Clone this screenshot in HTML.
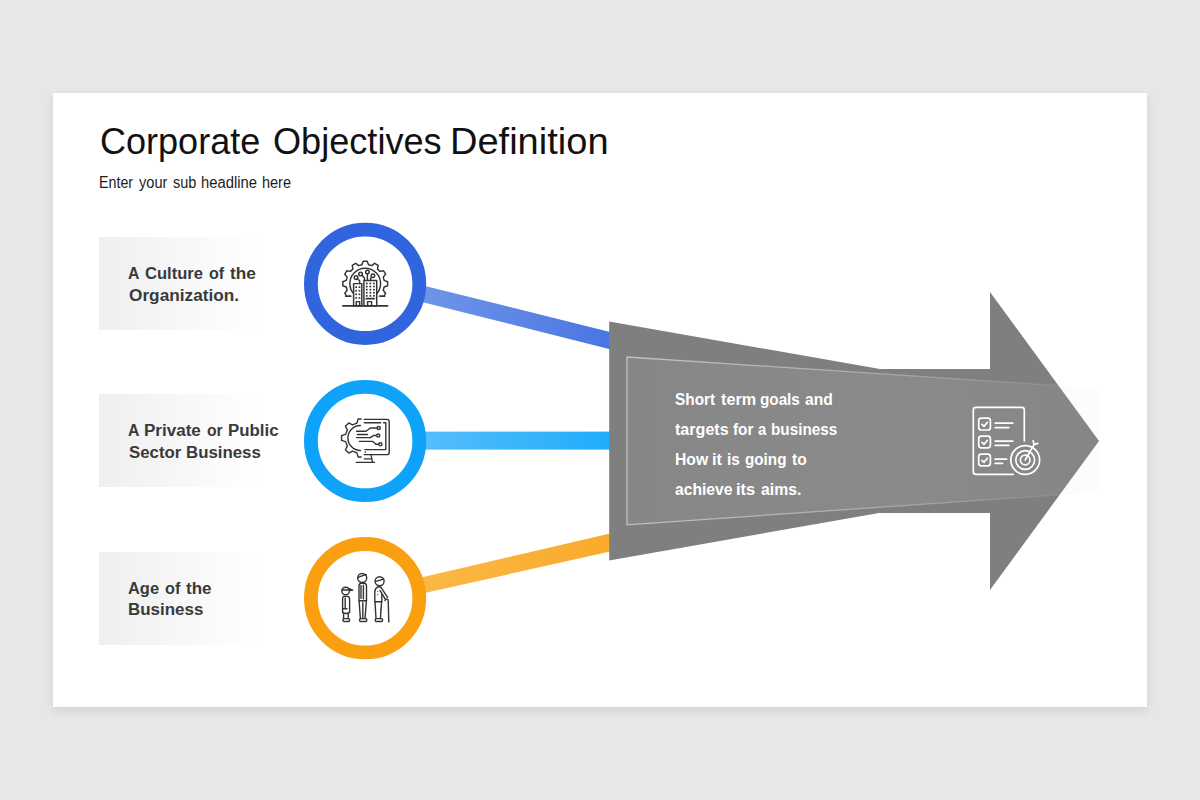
<!DOCTYPE html>
<html><head><meta charset="utf-8">
<style>
html,body{margin:0;padding:0;}
body{width:1200px;height:800px;background:#e8e6e7;position:relative;overflow:hidden;font-family:"Liberation Sans",sans-serif;}
#slide{position:absolute;left:53px;top:93px;width:1094px;height:614px;background:#fff;box-shadow:0 4px 10px rgba(0,0,0,0.09);}
.t{position:absolute;white-space:nowrap;}
#title{left:99.5px;top:121.3px;font-size:36.5px;line-height:42px;color:#111;letter-spacing:0.18px;}
#sub{left:99.5px;top:172px;font-size:15.8px;line-height:20px;color:#1a1a1a;letter-spacing:-0.33px;}
.lbl{position:absolute;left:99px;width:160px;height:92.5px;background:linear-gradient(90deg,#efefef 0%,#f4f4f4 30%,#ffffff 100%);}
.lt{position:absolute;left:127.7px;font-weight:bold;font-size:17.25px;line-height:21.6px;color:#3a3a3a;white-space:nowrap;}
.at{position:absolute;left:674.7px;font-weight:bold;font-size:15.9px;line-height:20px;color:#fff;white-space:nowrap;}
svg{position:absolute;left:0;top:0;}
.w{position:absolute;white-space:nowrap;line-height:1;transform-origin:0 50%;}
</style></head><body>
<div id="slide"></div>
<div class="lbl" style="top:237.3px"></div>
<div class="lbl" style="top:394.3px"></div>
<div class="lbl" style="top:552px"></div>
<svg width="1200" height="800" viewBox="0 0 1200 800">
<defs>
<linearGradient id="g1" gradientUnits="userSpaceOnUse" x1="426" y1="0" x2="610" y2="0"><stop offset="0" stop-color="#6f94e9"/><stop offset="1" stop-color="#4976e2"/></linearGradient>
<linearGradient id="g2" gradientUnits="userSpaceOnUse" x1="426" y1="0" x2="610" y2="0"><stop offset="0" stop-color="#55bdfc"/><stop offset="1" stop-color="#20adfb"/></linearGradient>
<linearGradient id="g3" gradientUnits="userSpaceOnUse" x1="426" y1="0" x2="610" y2="0"><stop offset="0" stop-color="#fbb846"/><stop offset="1" stop-color="#f9aa2a"/></linearGradient>
<linearGradient id="ov" gradientUnits="userSpaceOnUse" x1="627" y1="0" x2="1100" y2="0"><stop offset="0" stop-color="#fff" stop-opacity="0.06"/><stop offset="0.6" stop-color="#fff" stop-opacity="0.09"/><stop offset="1" stop-color="#fff" stop-opacity="0.05"/></linearGradient>
<linearGradient id="os" gradientUnits="userSpaceOnUse" x1="627" y1="0" x2="1100" y2="0"><stop offset="0" stop-color="#fff" stop-opacity="0.5"/><stop offset="0.45" stop-color="#fff" stop-opacity="0.35"/><stop offset="0.9" stop-color="#fff" stop-opacity="0.08"/><stop offset="1" stop-color="#fff" stop-opacity="0"/></linearGradient>
<clipPath id="ac"><polygon points="609.2,321.5 880,369 990,369 990,292 1099,441 990,590 990,513 879,513 609.2,560.5"/></clipPath>
</defs>
<!-- connectors -->
<polygon points="418,284.2 610,331.9 610,349.3 418,300.9" fill="url(#g1)"/>
<rect x="418" y="431.6" width="192" height="18" fill="url(#g2)"/>
<polygon points="418,578.2 610,533.4 610,551.4 418,594.6" fill="url(#g3)"/>
<!-- circles -->
<circle cx="365.1" cy="283.8" r="54.2" fill="#fff" stroke="#3165dd" stroke-width="13.8"/>
<circle cx="365.1" cy="441" r="54.2" fill="#fff" stroke="#0ea3f8" stroke-width="13.8"/>
<circle cx="365.1" cy="598.2" r="54.2" fill="#fff" stroke="#fa9f10" stroke-width="13.8"/>
<!-- arrow -->
<polygon points="1050,385 1100,388.3 1100,492 1050,495.4" fill="#fcfcfc"/>
<polygon points="609.2,321.5 880,369 990,369 990,292 1099,441 990,590 990,513 879,513 609.2,560.5" fill="#7f7f7f"/>
<g clip-path="url(#ac)"><polygon points="627,357 1100,388.3 1100,492 627,524.8" fill="url(#ov)" stroke="url(#os)" stroke-width="1.3"/></g>
<!--ICONS-->
<g fill="none" stroke="#333" stroke-width="1.45" stroke-linejoin="round" stroke-linecap="round">
<clipPath id="c1"><rect x="330" y="250" width="70" height="46.6"/></clipPath>
<g clip-path="url(#c1)"><path d="M361.90,264.79 L363.20,261.29 L367.20,261.29 L368.50,264.79 L371.80,265.67 L374.67,263.29 L378.14,265.29 L377.52,268.97 L379.93,271.38 L383.61,270.76 L385.61,274.23 L383.23,277.10 L384.11,280.40 L387.61,281.70 L387.61,285.70 L384.11,287.00 L383.23,290.30 L385.61,293.17 L383.61,296.64 L379.93,296.02 L377.52,298.43 L378.14,302.11 L374.67,304.11 L371.80,301.73 L368.50,302.61 L367.20,306.11 L363.20,306.11 L361.90,302.61 L358.60,301.73 L355.73,304.11 L352.26,302.11 L352.88,298.43 L350.47,296.02 L346.79,296.64 L344.79,293.17 L347.17,290.30 L346.29,287.00 L342.79,285.70 L342.79,281.70 L346.29,280.40 L347.17,277.10 L344.79,274.23 L346.79,270.76 L350.47,271.38 L352.88,268.97 L352.26,265.29 L355.73,263.29 L358.60,265.67Z"/><circle cx="365.2" cy="283.6" r="15.4"/></g>
<path d="M345.6,296.3H350.5 M384.8,296.3H380.2"/>
<rect x="353.6" y="283.6" width="8.2" height="22.1" fill="#fff"/>
<rect x="363.9" y="280.4" width="12.8" height="25.3" fill="#fff"/>
<path d="M356.3,305.7V301.6H359.6V305.7 M367.6,305.7V301.6H371.6V305.7"/>
<path d="M342.9,305.8H387.6" stroke-width="1.8"/>
<path d="M366.2,298.7H374.2" stroke-width="1.7"/>
<circle cx="356" cy="277.6" r="1.8" fill="#fff"/><path d="M357.4,278.8L359.6,280.8V283.4"/>
<circle cx="360.6" cy="274" r="1.8" fill="#fff"/><path d="M361.9,275.3L364.4,277.8V280.2"/>
<circle cx="367.4" cy="272" r="1.8" fill="#fff"/><path d="M367.4,273.9V280.2"/>
<circle cx="372.9" cy="275.8" r="1.8" fill="#fff"/><path d="M371.7,277.2L370.6,278.4V280.2"/>
</g>
<g fill="#333"><rect x="355.3" y="286.3" width="1.7" height="1.7"/><rect x="358.6" y="286.3" width="1.7" height="1.7"/><rect x="355.3" y="289.9" width="1.7" height="1.7"/><rect x="358.6" y="289.9" width="1.7" height="1.7"/><rect x="355.3" y="293.5" width="1.7" height="1.7"/><rect x="358.6" y="293.5" width="1.7" height="1.7"/><rect x="355.3" y="297.1" width="1.7" height="1.7"/><rect x="358.6" y="297.1" width="1.7" height="1.7"/><rect x="365.9" y="282.6" width="1.7" height="1.7"/><rect x="369.5" y="282.6" width="1.7" height="1.7"/><rect x="373.1" y="282.6" width="1.7" height="1.7"/><rect x="365.9" y="285.7" width="1.7" height="1.7"/><rect x="369.5" y="285.7" width="1.7" height="1.7"/><rect x="373.1" y="285.7" width="1.7" height="1.7"/><rect x="365.9" y="288.8" width="1.7" height="1.7"/><rect x="369.5" y="288.8" width="1.7" height="1.7"/><rect x="373.1" y="288.8" width="1.7" height="1.7"/><rect x="365.9" y="291.9" width="1.7" height="1.7"/><rect x="369.5" y="291.9" width="1.7" height="1.7"/><rect x="373.1" y="291.9" width="1.7" height="1.7"/><rect x="365.9" y="295.0" width="1.7" height="1.7"/><rect x="369.5" y="295.0" width="1.7" height="1.7"/><rect x="373.1" y="295.0" width="1.7" height="1.7"/></g>
<g fill="none" stroke="#333" stroke-width="1.4" stroke-linejoin="round" stroke-linecap="round">
<clipPath id="c2"><rect x="330" y="410" width="31.6" height="60"/></clipPath>
<g clip-path="url(#c2)"><path d="M345.53,441.60 L341.55,440.39 L341.55,435.61 L345.53,434.40 L347.37,429.95 L345.41,426.29 L348.79,422.91 L352.45,424.87 L356.90,423.03 L358.11,419.05 L362.89,419.05 L364.10,423.03 L368.55,424.87 L372.21,422.91 L375.59,426.29 L373.63,429.95 L375.47,434.40 L379.45,435.61 L379.45,440.39 L375.47,441.60 L373.63,446.05 L375.59,449.71 L372.21,453.09 L368.55,451.13 L364.10,452.97 L362.89,456.95 L358.11,456.95 L356.90,452.97 L352.45,451.13 L348.79,453.09 L345.41,449.71 L347.37,446.05Z"/></g>
<path d="M360.4,425.5A12.5,12.5 0 0 0 360.4,450.5"/>
<path d="M364.2,419.4H387A2.2,2.2 0 0 1 389.2,421.6V452.4A2.2,2.2 0 0 1 387,454.6H364.2"/>
<path d="M364.4,422.7H380.6 M383.6,422.7H385.8V449.6H365"/>
<path d="M364.4,458.9H371.6 M371,454.8L372.4,461.6 M356.2,462.3H374.6" stroke-width="1.3"/>
<path d="M356.6,431.3H366L370.4,428H377.1"/><circle cx="378.7" cy="428" r="1.55"/>
<path d="M357.4,434.5H367.4"/>
<path d="M356.6,437.6H370.4L373.4,435.5H376.6"/><circle cx="378.2" cy="435.5" r="1.55"/>
<path d="M359.4,441.4H372.8L376,444.3H378.8"/><circle cx="380.4" cy="444.3" r="1.55"/>
</g>
<circle cx="365.3" cy="452.1" r="0.8" fill="#333"/>
<g fill="none" stroke="#333" stroke-width="1.4" stroke-linejoin="round" stroke-linecap="round">
<circle cx="345.6" cy="591" r="3.8"/><path d="M341.9,590H349.4 M348.6,588.4L352.6,590.2H349.2"/>
<path d="M343.6,596.4H347.4Q349.6,596.6 349.6,599.6V612.4Q346,614.6 342.6,612.4V599.6Q342.6,596.6 343.6,596.4Z"/>
<path d="M345.2,598V608.6 M342.6,608.8H347"/>
<path d="M343.6,613.2V618.6 M348.2,613.2V618.6"/><rect x="343" y="618.6" width="6.6" height="2.9" rx="1.2"/>
<circle cx="362.2" cy="578" r="4.5"/><path d="M358,577.4Q362,575.8 366.4,574.6"/>
<path d="M360.8,583.2H364.6Q366.5,583.6 366.5,586.2V600.8H359V586.2Q359,583.6 360.8,583.2Z"/>
<path d="M361,585.6V598.4 M363.4,585.2V598.8"/>
<path d="M359.1,600.8L360.4,618.6 M366.4,600.8L365,618.6 M362.8,602.4V617.6"/><rect x="359.6" y="618.6" width="7.2" height="2.9" rx="1.2"/>
<circle cx="379.6" cy="581.2" r="4.5"/><path d="M375.6,581.4Q379.6,580.6 383.6,578.8"/>
<path d="M378,586.8Q374.8,588.4 374.8,592V601.8H381.8V594"/>
<path d="M378.6,586.8L380.8,587.2L387.6,597.4 M380,590.4L385.4,599.4"/>
<path d="M375,601.8L376,618.6 M381.6,601.8L380.4,618.6"/><rect x="375.2" y="618.6" width="7.4" height="2.9" rx="1.2"/>
<path d="M385,600.6Q386.6,597.6 388.2,600.2L388.8,622"/>
</g>
<g fill="#333"><circle cx="377.8" cy="591.6" r="0.6"/><circle cx="377.8" cy="594.6" r="0.6"/><circle cx="380.4" cy="609.6" r="0.6"/><circle cx="380.4" cy="612" r="0.6"/></g>
<g fill="none" stroke="#fff" stroke-width="1.7" stroke-linejoin="round" stroke-linecap="round">
<path d="M1024.3,441V410A2.6,2.6 0 0 0 1021.7,407.4H975.9A2.6,2.6 0 0 0 973.3,410V471.7A2.6,2.6 0 0 0 975.9,474.3H1013.2"/>
<rect x="978.7" y="418.2" width="11.7" height="11.8" rx="2.6"/>
<path d="M982,424.4L984,426.4L987.4,422.4"/>
<rect x="978.7" y="436.1" width="11.7" height="11.8" rx="2.6"/>
<path d="M982,442.3L984,444.3L987.4,440.3"/>
<rect x="978.7" y="454.1" width="11.7" height="11.8" rx="2.6"/>
<path d="M982,460.3L984,462.3L987.4,458.3"/>
<path d="M995.2,423.2H1012.8 M995.2,427.6H1008.8 M995.2,441.1H1012.8 M995.2,445.4H1008.8 M995.2,459.2H1006.6 M995.2,463.3H1002.6"/>
<circle cx="1025.2" cy="460" r="14.4"/><circle cx="1025.2" cy="460" r="9.4"/><circle cx="1025.2" cy="460" r="4.8"/>
<path d="M1025.2,460L1034,444.6 M1033.2,440.6L1034,444.6L1037.8,443.4"/>
</g>
<!--/ICONS-->
</svg>
<!--TEXT-->
<span class="w" style="left:100.01px;top:123.60px;font-size:36.5px;font-weight:normal;color:#111;transform:scaleX(0.9875)">Corporate</span>
<span class="w" style="left:272.61px;top:123.60px;font-size:36.5px;font-weight:normal;color:#111;transform:scaleX(0.9896)">Objectives</span>
<span class="w" style="left:450.47px;top:123.60px;font-size:36.5px;font-weight:normal;color:#111;transform:scaleX(1.0418)">Definition</span>
<span class="w" style="left:99.11px;top:174.56px;font-size:16px;font-weight:normal;color:#1c1c1c;transform:scaleX(0.8902)">Enter</span>
<span class="w" style="left:139.30px;top:174.56px;font-size:16px;font-weight:normal;color:#1c1c1c;transform:scaleX(0.9120)">your</span>
<span class="w" style="left:173.30px;top:174.56px;font-size:16px;font-weight:normal;color:#1c1c1c;transform:scaleX(0.9074)">sub</span>
<span class="w" style="left:200.87px;top:174.56px;font-size:16px;font-weight:normal;color:#1c1c1c;transform:scaleX(0.9262)">headline</span>
<span class="w" style="left:262.39px;top:174.56px;font-size:16px;font-weight:normal;color:#1c1c1c;transform:scaleX(0.9060)">here</span>
<span class="w" style="left:127.95px;top:265.14px;font-size:17.2px;font-weight:bold;color:#3a3a3a;transform:scaleX(0.9167)">A</span>
<span class="w" style="left:145.00px;top:265.14px;font-size:17.2px;font-weight:bold;color:#3a3a3a;transform:scaleX(0.9648)">Culture</span>
<span class="w" style="left:208.70px;top:265.14px;font-size:17.2px;font-weight:bold;color:#3a3a3a;transform:scaleX(0.9395)">of</span>
<span class="w" style="left:229.70px;top:265.14px;font-size:17.2px;font-weight:bold;color:#3a3a3a;transform:scaleX(1.0031)">the</span>
<span class="w" style="left:128.70px;top:286.74px;font-size:17.2px;font-weight:bold;color:#3a3a3a;transform:scaleX(1.0024)">Organization.</span>
<span class="w" style="left:127.95px;top:422.14px;font-size:17.2px;font-weight:bold;color:#3a3a3a;transform:scaleX(0.9167)">A</span>
<span class="w" style="left:144.01px;top:422.14px;font-size:17.2px;font-weight:bold;color:#3a3a3a;transform:scaleX(0.9916)">Private</span>
<span class="w" style="left:207.00px;top:422.14px;font-size:17.2px;font-weight:bold;color:#3a3a3a;transform:scaleX(0.9143)">or</span>
<span class="w" style="left:227.72px;top:422.14px;font-size:17.2px;font-weight:bold;color:#3a3a3a;transform:scaleX(0.9802)">Public</span>
<span class="w" style="left:128.70px;top:443.74px;font-size:17.2px;font-weight:bold;color:#3a3a3a;transform:scaleX(0.9776)">Sector</span>
<span class="w" style="left:185.72px;top:443.74px;font-size:17.2px;font-weight:bold;color:#3a3a3a;transform:scaleX(0.9791)">Business</span>
<span class="w" style="left:127.95px;top:579.64px;font-size:17.2px;font-weight:bold;color:#3a3a3a;transform:scaleX(0.9558)">Age</span>
<span class="w" style="left:164.70px;top:579.64px;font-size:17.2px;font-weight:bold;color:#3a3a3a;transform:scaleX(0.9455)">of</span>
<span class="w" style="left:185.80px;top:579.64px;font-size:17.2px;font-weight:bold;color:#3a3a3a;transform:scaleX(0.9912)">the</span>
<span class="w" style="left:127.71px;top:601.24px;font-size:17.2px;font-weight:bold;color:#3a3a3a;transform:scaleX(0.9858)">Business</span>
<span class="w" style="left:674.90px;top:392.04px;font-size:15.9px;font-weight:bold;color:#fff;transform:scaleX(0.9693)">Short</span>
<span class="w" style="left:720.80px;top:392.04px;font-size:15.9px;font-weight:bold;color:#fff;transform:scaleX(1.0200)">term</span>
<span class="w" style="left:759.70px;top:392.04px;font-size:15.9px;font-weight:bold;color:#fff;transform:scaleX(0.9600)">goals</span>
<span class="w" style="left:805.00px;top:392.04px;font-size:15.9px;font-weight:bold;color:#fff;transform:scaleX(0.9802)">and</span>
<span class="w" style="left:674.90px;top:421.74px;font-size:15.9px;font-weight:bold;color:#fff;transform:scaleX(1.0122)">targets</span>
<span class="w" style="left:733.00px;top:421.74px;font-size:15.9px;font-weight:bold;color:#fff;transform:scaleX(0.9667)">for</span>
<span class="w" style="left:758.30px;top:421.74px;font-size:15.9px;font-weight:bold;color:#fff;transform:scaleX(0.9333)">a</span>
<span class="w" style="left:771.04px;top:421.74px;font-size:15.9px;font-weight:bold;color:#fff;transform:scaleX(0.9626)">business</span>
<span class="w" style="left:674.51px;top:451.74px;font-size:15.9px;font-weight:bold;color:#fff;transform:scaleX(0.9885)">How</span>
<span class="w" style="left:712.27px;top:451.74px;font-size:15.9px;font-weight:bold;color:#fff;transform:scaleX(1.0303)">it</span>
<span class="w" style="left:727.03px;top:451.74px;font-size:15.9px;font-weight:bold;color:#fff;transform:scaleX(0.9666)">is</span>
<span class="w" style="left:745.00px;top:451.74px;font-size:15.9px;font-weight:bold;color:#fff;transform:scaleX(0.9592)">going</span>
<span class="w" style="left:791.70px;top:451.74px;font-size:15.9px;font-weight:bold;color:#fff;transform:scaleX(0.9809)">to</span>
<span class="w" style="left:674.90px;top:482.34px;font-size:15.9px;font-weight:bold;color:#fff;transform:scaleX(0.9851)">achieve</span>
<span class="w" style="left:735.97px;top:482.34px;font-size:15.9px;font-weight:bold;color:#fff;transform:scaleX(1.0335)">its</span>
<span class="w" style="left:760.80px;top:482.34px;font-size:15.9px;font-weight:bold;color:#fff;transform:scaleX(0.9945)">aims.</span>
<!--/TEXT-->
</body></html>
